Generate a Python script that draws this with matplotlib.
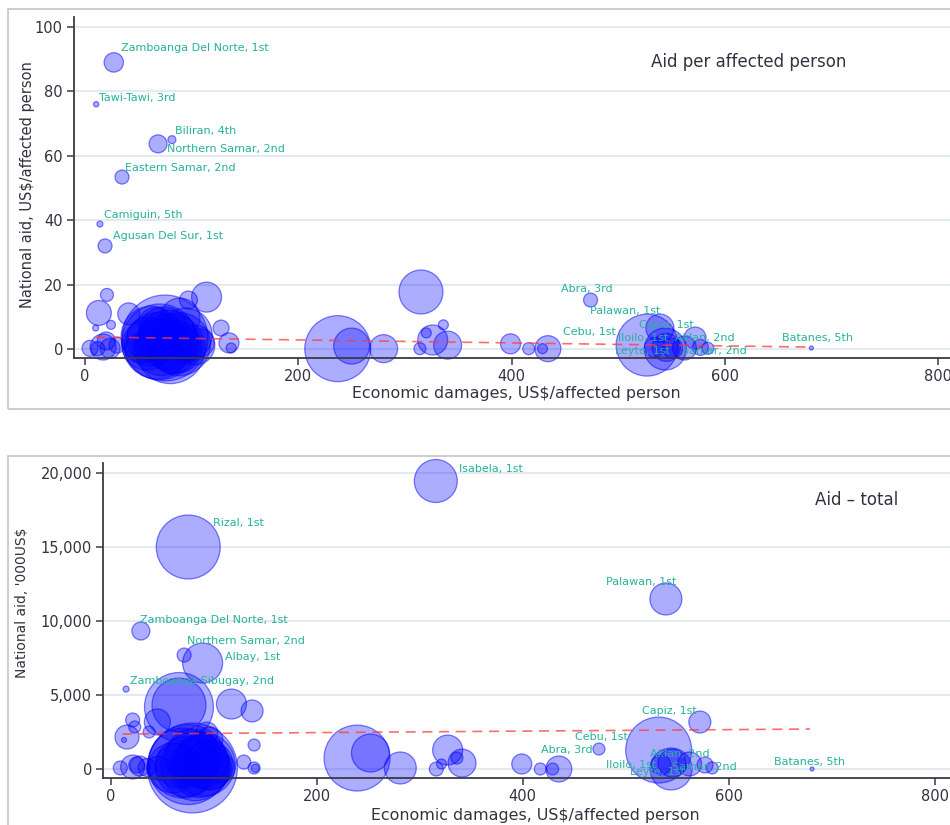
import matplotlib
matplotlib.use("Agg")
import matplotlib.pyplot as plt
from matplotlib.patches import Rectangle
from matplotlib.ticker import FuncFormatter

plt.rcParams['font.family'] = ['DejaVu Sans']

# ---------------- Panel 1: aid per affected person ----------------
pp_names = [
    "Zamboanga Del Norte, 1st", "Tawi-Tawi, 3rd", "Biliran, 4th", "Northern Samar, 2nd",
    "Eastern Samar, 2nd", "Camiguin, 5th", "Agusan Del Sur, 1st", "Abra, 3rd",
    "Palawan, 1st", "Cebu, 1st", "Capiz, 1st", "Iloilo, 1st", "Aklan, 2nd",
    "Leyte, 1st", "Samar, 2nd", "Batanes, 5th", "",
    "", "", "", "", "", "", "", "", "", "",
    "", "", "", "", "", "",
    "", "", "", "", "", "", "", "", "", "", "", "", "", "",
    "", "", "", "", "",
    "", "", "", "", "", "", "", "", "", "", "", "",
    "", "", "",
]
pp_damage = [
    27, 10.5, 81.5, 68.5, 34.7, 14, 18.8, 474,
    539, 527, 572, 534, 562, 544, 584, 681, 315,
    20.6, 13, 10, 24.4, 41, 97, 114, 127.6, 135, 137,
    4.7, 17, 23.5, 12, 30, 20,
    75, 70, 80, 58, 94, 66, 103, 52, 84, 108, 62, 88, 72, 89,
    68, 78, 85, 60, 74,
    237, 250, 280, 320, 336, 326, 314, 340, 399, 416, 434, 429,
    545, 577, 551,
]
pp_aid = [
    89, 76, 65, 63.7, 53.4, 38.8, 32, 15.2,
    6.5, 1.2, 3.4, 0.5, 0.3, 0.0, 0.2, 0.3, 17.7,
    16.8, 11.2, 6.5, 7.5, 10.9, 15.2, 16.1, 6.5, 1.9, 0.3,
    0.2, 0.6, 0.2, 0.1, 1.2, 2.5,
    3.4, 2.2, 0.1, 1.2, 4.3, 7.5, 1.2, 0.2, 0.3, 1.9, 4.0, 1.5, 0.5, 9.6,
    1.0, 2.8, 0.5, 3.0, 5.5,
    0.1, 0.9, 0.1, 5.0, 7.5, 2.8, 0.1, 1.2, 1.6, 0.1, 0.1, 0.1,
    0.5, 0.5, 0.2,
]
pp_affected = [
    94, 7, 16, 81, 49, 9, 49, 49,
    196, 960, 121, 100, 144, 441, 36, 4, 484,
    42, 156, 9, 20, 121, 81, 225, 64, 100, 25,
    64, 169, 100, 49, 64, 81,
    1850, 1440, 1225, 625, 729, 300, 400, 225, 625, 196, 900, 1000, 800, 400,
    1100, 900, 700, 500, 600,
    1090, 324, 196, 25, 25, 225, 36, 196, 100, 36, 169, 25,
    196, 64, 100,
]
pp_trend_x = [10, 677]
pp_trend_y = [3.7, 0.6]

# ---------------- Panel 2: total aid ----------------
tot_names = [
    "Isabela, 1st", "Rizal, 1st", "Palawan, 1st", "Zamboanga Del Norte, 1st",
    "Northern Samar, 2nd", "Albay, 1st", "Zamboanga Sibugay, 2nd", "Capiz, 1st",
    "Cebu, 1st", "Abra, 3rd", "Aklan, 2nd", "Iloilo, 1st", "Samar, 2nd",
    "Leyte, 1st", "Batanes, 5th",
    "", "", "", "", "", "", "", "", "", "", "", "", "", "", "", "",
    "", "", "", "", "",
    "", "", "", "", "", "", "", "", "", "",
    "", "", "", "", "",
    "", "", "", "", "", "", "", "", "", "", "", "",
    "", "",
]
tot_damage = [
    315.5, 75, 539, 29, 71, 89, 14.6, 572, 532, 474, 562, 534, 584, 544, 681,
    66, 66, 117, 137, 21, 23, 45, 37, 15.5, 12.6, 93, 96, 139, 129, 139, 140,
    21, 9, 35, 25, 28,
    79, 70, 86, 60, 80, 96, 46, 106, 75, 90,
    82, 72, 88, 65, 95,
    239, 252, 281, 316, 321, 327, 336, 341, 399, 417, 435, 429,
    545, 577,
]
tot_aid = [
    19460, 15000, 11490, 9325, 7700, 7160, 5400, 3175, 1280, 1350, 340, 270, 70, 0, 0,
    4190, 4320, 4390, 3920, 3310, 2840, 3180, 2500, 2160, 1960, 2430, 1960, 1620, 470, 70, 50,
    135, 70, 100, 270, 200,
    70, 400, 100, 70, 810, 70, 70, 70, 300, 300,
    200, 150, 500, 250, 250,
    740, 1080, 70, 0, 340, 1280, 740, 400, 340, 0, 0, 0,
    400, 270,
]
tot_affected = [
    462, 1024, 256, 81, 49, 400, 9, 121, 1089, 36, 144, 100, 36, 441, 4,
    1190, 729, 225, 121, 49, 36, 169, 36, 144, 6, 121, 169, 36, 49, 36, 16,
    144, 49, 81, 64, 100,
    2025, 1225, 900, 625, 784, 484, 144, 225, 1600, 1000,
    1200, 900, 700, 500, 600,
    1089, 361, 256, 49, 25, 225, 36, 196, 100, 36, 169, 36,
    196, 64,
]
tot_trend_x = [11, 679]
tot_trend_y = [2365, 2700]

# label placement, pixel offsets from the bubble centre
pp_offsets = {
    "Zamboanga Del Norte, 1st": (7, 14), "Tawi-Tawi, 3rd": (3, 6),
    "Biliran, 4th": (3, 9), "Northern Samar, 2nd": (9, -5),
    "Eastern Samar, 2nd": (3, 9), "Camiguin, 5th": (4, 9),
    "Agusan Del Sur, 1st": (8, 10), "Abra, 3rd": (-30, 11),
    "Palawan, 1st": (-70, 17), "Cebu, 1st": (-84, 13),
    "Capiz, 1st": (-56, 13), "Iloilo, 1st": (-37, 9),
    "Aklan, 2nd": (-9, 10), "Leyte, 1st": (-50, -2),
    "Samar, 2nd": (-26, -3), "Batanes, 5th": (-29, 10),
}
tot_offsets = {
    "Isabela, 1st": (23, 12), "Rizal, 1st": (25, 24), "Palawan, 1st": (-60, 17),
    "Zamboanga Del Norte, 1st": (-1, 11), "Northern Samar, 2nd": (3, 14),
    "Albay, 1st": (22, 6), "Zamboanga Sibugay, 2nd": (4, 8),
    "Capiz, 1st": (-58, 11), "Cebu, 1st": (-84, 13), "Abra, 3rd": (-58, -1),
    "Aklan, 2nd": (-40, 10), "Iloilo, 1st": (-55, 0), "Samar, 2nd": (-40, 1),
    "Leyte, 1st": (-41, -3), "Batanes, 5th": (-38, 7),
}

W, H = 950, 825
fig = plt.figure(figsize=(W / 100, H / 100), dpi=100)

FACE = (0, 0, 1, 0.32)
EDGE = (0, 0, 1, 0.5)
TEAL = "#25b29a"
INK = "#333340"
SIZE_K = 2.07


def frame(x0, y0, x1, y1):
    fig.add_artist(Rectangle((x0 / W, 1 - y1 / H), (x1 - x0) / W, (y1 - y0) / H,
                             transform=fig.transFigure, fill=False,
                             edgecolor="#c4c4cf", linewidth=1.2, zorder=0))


def axes_px(left, top, right, bottom):
    return fig.add_axes([left / W, 1 - bottom / H, (right - left) / W, (bottom - top) / H])


def style(ax):
    for s in ("top", "right"):
        ax.spines[s].set_visible(False)
    for s in ("left", "bottom"):
        ax.spines[s].set_color("#3a3a44")
        ax.spines[s].set_linewidth(1.3)
        ax.spines[s].set_zorder(5)
    ax.tick_params(direction="out", length=5, width=1.1, color="#3a3a44",
                   labelsize=10.5, labelcolor=INK, pad=3)
    ax.yaxis.grid(True, color="#e3ebee", linewidth=1.5)
    ax.set_axisbelow(True)
    ax.set_facecolor("none")


def bubbles(ax, xs, ys, sizes, names, offsets, tx, ty):
    ax.plot(tx, ty, linestyle=(0, (6, 4)), color="#ff3b3b", alpha=0.75,
            linewidth=1.2, zorder=4)
    ax.scatter(xs, ys, s=[a * SIZE_K for a in sizes], facecolor=FACE,
               edgecolor=EDGE, linewidth=0.9, clip_on=False, zorder=3)
    for name, x, y in zip(names, xs, ys):
        if name:
            dx, dy = offsets[name]
            ax.annotate(name, (x, y), xytext=(dx, dy), textcoords="offset pixels",
                        ha="left", va="center", color=TEAL, fontsize=8,
                        zorder=6, annotation_clip=False)


frame(8, 9, 1000, 409)
frame(8, 456, 1000, 900)

# top panel
ax1 = axes_px(74, 17, 950, 358)
style(ax1)
bubbles(ax1, pp_damage, pp_aid, pp_affected, pp_names, pp_offsets, pp_trend_x, pp_trend_y)
ax1.set_xlim(-10.3, 811)
ax1.set_ylim(-2.8, 103.1)
ax1.set_xticks([0, 200, 400, 600, 800])
ax1.set_yticks([0, 20, 40, 60, 80, 100])
ax1.set_xlabel("Economic damages, US$/affected person", fontsize=11.4, color=INK)
ax1.set_ylabel("National aid, US$/affected person", fontsize=10.5, color=INK)
ax1.xaxis.set_label_coords(0.505, -0.082)
ax1.yaxis.set_label_coords(-0.0445, 0.51)
ax1.text(0.659, 0.868, "Aid per affected person", transform=ax1.transAxes,
         fontsize=12, color=INK, ha="left", va="center")

# bottom panel
ax2 = axes_px(103, 463, 950, 778)
style(ax2)
bubbles(ax2, tot_damage, tot_aid, tot_affected, tot_names, tot_offsets, tot_trend_x, tot_trend_y)
ax2.set_xlim(-7.8, 815)
ax2.set_ylim(-608, 20677)
ax2.set_xticks([0, 200, 400, 600, 800])
ax2.set_yticks([0, 5000, 10000, 15000, 20000])
ax2.yaxis.set_major_formatter(FuncFormatter(lambda v, p: f"{v:,.0f}"))
ax2.set_xlabel("Economic damages, US$/affected person", fontsize=11.4, color=INK)
ax2.set_ylabel("National aid, '000US$", fontsize=10, color=INK)
ax2.xaxis.set_label_coords(0.51, -0.095)
ax2.yaxis.set_label_coords(-0.0874, 0.557)
ax2.text(0.8406, 0.8825, "Aid \u2013 total", transform=ax2.transAxes,
         fontsize=12, color=INK, ha="left", va="center")

fig.savefig("out.png", dpi=100)
